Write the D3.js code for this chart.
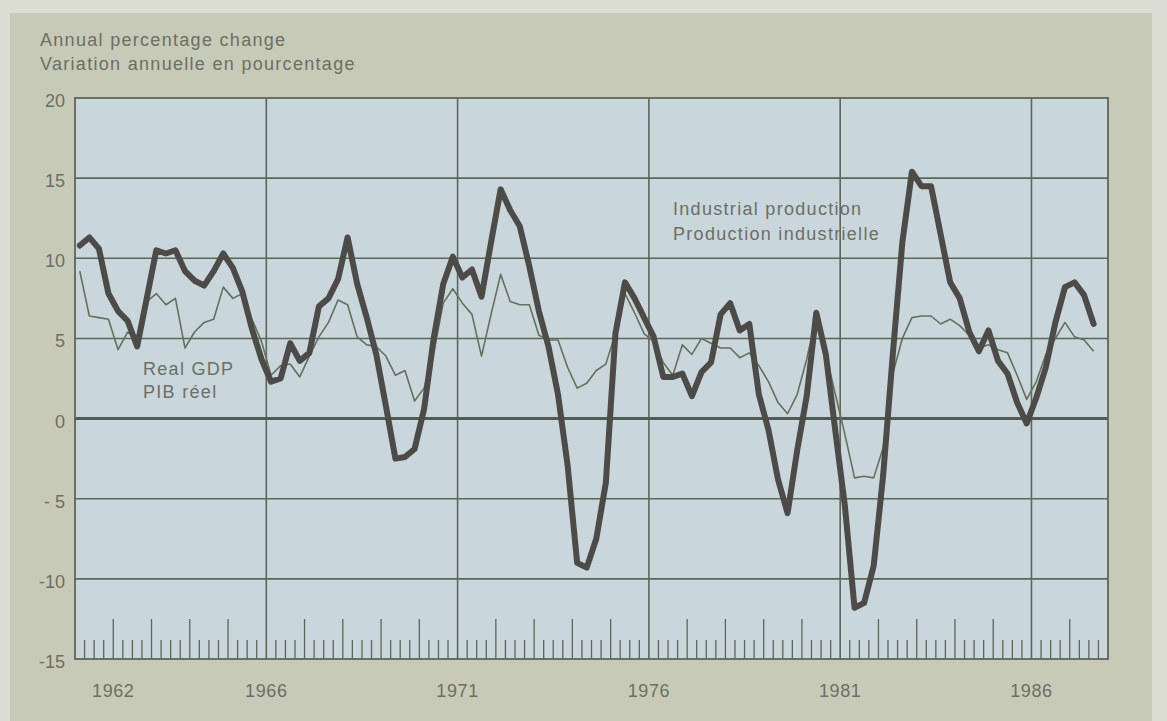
<!DOCTYPE html>
<html>
<head>
<meta charset="utf-8">
<script src="https://cdn.jsdelivr.net/npm/d3@7"></script>
<style>
  html, body { margin: 0; padding: 0; background: #dcddd2; }
  svg { display: block; }
  text { font-family: "Liberation Sans", Arial, sans-serif; fill: #6c6f64; }
</style>
</head>
<body>
<svg id="chart" width="1167" height="721"></svg>
<script>
// ---- Data (quarterly, 1961 Q1 – 1987 Q3) ----
const startYear = 1961;
const industrialProduction = [
  10.8, 11.3, 10.6, 7.8, 6.7, 6.1, 4.5, 7.5,
  10.5, 10.3, 10.5, 9.2, 8.6, 8.3, 9.2, 10.3,
  9.4, 7.9, 5.6, 3.7, 2.3, 2.5, 4.7, 3.6,
  4.1, 7.0, 7.5, 8.7, 11.3, 8.4, 6.3, 4.0,
  0.8, -2.5, -2.4, -1.9, 0.6, 5.0, 8.4, 10.1,
  8.8, 9.3, 7.6, 11.0, 14.3, 13.0, 12.0, 9.5,
  6.7, 4.5, 1.5, -2.9, -9.0, -9.3, -7.5, -4.0,
  5.3, 8.5, 7.5, 6.3, 5.1, 2.6, 2.6, 2.8,
  1.4, 2.9, 3.5, 6.5, 7.2, 5.5, 5.9, 1.5,
  -0.7, -3.8, -5.9, -2.0, 1.4, 6.6, 4.0, -0.8,
  -5.5, -11.8, -11.5, -9.2, -3.5, 4.0, 11.0, 15.4,
  14.5, 14.5, 11.5, 8.5, 7.5, 5.4, 4.2, 5.5,
  3.6, 2.8, 1.0, -0.3, 1.3, 3.2, 6.0, 8.2,
  8.5, 7.7, 5.9
];
const realGDP = [
  9.2, 6.4, 6.3, 6.2, 4.3, 5.4, 5.0, 7.3,
  7.8, 7.1, 7.5, 4.4, 5.4, 6.0, 6.2, 8.2,
  7.5, 7.8, 6.2, 4.8, 2.7, 3.3, 3.4, 2.6,
  3.9, 5.1, 6.0, 7.4, 7.1, 5.1, 4.6, 4.5,
  3.9, 2.7, 3.0, 1.1, 1.9, 4.1, 7.2, 8.1,
  7.2, 6.5, 3.9, 6.5, 9.0, 7.3, 7.1, 7.1,
  5.2, 4.9, 4.9, 3.2, 1.9, 2.2, 3.0, 3.4,
  5.3, 7.8, 6.6, 5.3, 4.8, 3.5, 2.7, 4.6,
  4.0, 5.0, 4.7, 4.4, 4.4, 3.8, 4.1, 3.3,
  2.3, 1.0, 0.3, 1.5, 3.7, 6.4, 4.0, 1.5,
  -1.0, -3.7, -3.6, -3.7, -1.8, 2.8, 5.0, 6.3,
  6.4, 6.4, 5.9, 6.2, 5.8, 5.2, 4.4, 4.6,
  4.3, 4.1, 2.7, 1.2, 2.3, 4.0, 5.0, 6.0,
  5.1, 4.9, 4.2
];
const yTicks = [20, 15, 10, 5, 0, -5, -10, -15];
const yTickLabels = ["20", "15", "10", "5", "0", "- 5", "-10", "-15"];
const xLabelYears = [1962, 1966, 1971, 1976, 1981, 1986];
const xGridYears = [1966, 1971, 1976, 1981, 1986];
const titleLines = ["Annual percentage change", "Variation annuelle en pourcentage"];
const gdpLabel = ["Real GDP", "PIB réel"];
const ipLabel = ["Industrial production", "Production industrielle"];

// ---- Layout ----
const svg = d3.select("#chart");
const W = 1167, H = 721;
const plot = { left: 75, right: 1108, top: 98, bottom: 659 };

// outer panel
svg.append("rect").attr("x", 10).attr("y", 13).attr("width", 1142).attr("height", H - 13)
  .attr("fill", "#c8cab8");

const x = d3.scaleLinear().domain([1961, 1988]).range([plot.left, plot.right]);
const y = d3.scaleLinear().domain([-15, 20]).range([plot.bottom, plot.top]);

// plot background
svg.append("rect")
  .attr("x", plot.left).attr("y", plot.top)
  .attr("width", plot.right - plot.left).attr("height", plot.bottom - plot.top)
  .attr("fill", "#c9d6dc");

const gridColor = "#5e6659";

// horizontal grid lines
svg.append("g").selectAll("line").data(yTicks.filter(v => v !== 0 && v !== -15 && v !== 20)).join("line")
  .attr("x1", plot.left).attr("x2", plot.right)
  .attr("y1", d => y(d)).attr("y2", d => y(d))
  .attr("stroke", gridColor).attr("stroke-width", 1.6);

// vertical grid lines
svg.append("g").selectAll("line").data(xGridYears).join("line")
  .attr("x1", d => x(d)).attr("x2", d => x(d))
  .attr("y1", plot.top).attr("y2", plot.bottom)
  .attr("stroke", gridColor).attr("stroke-width", 1.6);

// bottom ticks: years tall, quarters short
const tickG = svg.append("g");
for (let yr = 1961; yr < 1988; yr++) {
  for (let q = 0; q < 4; q++) {
    const t = yr + q / 4;
    if (t <= 1961) continue;
    const tall = q === 0;
    if (tall && xGridYears.includes(yr)) continue;
    tickG.append("line")
      .attr("x1", x(t)).attr("x2", x(t))
      .attr("y1", plot.bottom).attr("y2", plot.bottom - (tall ? 40 : 19))
      .attr("stroke", gridColor).attr("stroke-width", 1.3);
  }
}

// zero line
svg.append("line")
  .attr("x1", plot.left).attr("x2", plot.right)
  .attr("y1", y(0)).attr("y2", y(0))
  .attr("stroke", "#535a4f").attr("stroke-width", 3);

// border
svg.append("rect")
  .attr("x", plot.left).attr("y", plot.top)
  .attr("width", plot.right - plot.left).attr("height", plot.bottom - plot.top)
  .attr("fill", "none").attr("stroke", gridColor).attr("stroke-width", 1.8);

// lines
const tAt = i => startYear + (i + 0.5) / 4;
const line = d3.line().x((d, i) => x(tAt(i))).y(d => y(d));

svg.append("path").datum(realGDP)
  .attr("d", line).attr("fill", "none")
  .attr("stroke", "#65705c").attr("stroke-width", 1.6)
  .attr("stroke-linejoin", "round");

svg.append("path").datum(industrialProduction)
  .attr("d", line).attr("fill", "none")
  .attr("stroke", "#4c4b48").attr("stroke-width", 6)
  .attr("stroke-linejoin", "round").attr("stroke-linecap", "round");

// y tick labels
svg.append("g").selectAll("text").data(yTicks).join("text")
  .attr("x", 65).attr("y", d => y(d) + 9)
  .attr("text-anchor", "end")
  .style("font-size", "18px")
  .text((d, i) => yTickLabels[i]);

// x labels
svg.append("g").selectAll("text").data(xLabelYears).join("text")
  .attr("x", d => x(d)).attr("y", 697)
  .attr("text-anchor", "middle")
  .style("font-size", "18px").style("letter-spacing", "0.6px")
  .text(d => d);

// title
svg.append("g").selectAll("text").data(titleLines).join("text")
  .attr("x", 40).attr("y", (d, i) => 46 + i * 24)
  .style("font-size", "18px").style("letter-spacing", "1.3px")
  .text(d => d);

// series labels
svg.append("g").selectAll("text").data(gdpLabel).join("text")
  .attr("x", 143).attr("y", (d, i) => 375 + i * 23)
  .style("font-size", "18px").style("letter-spacing", "1.3px")
  .text(d => d);

svg.append("g").selectAll("text").data(ipLabel).join("text")
  .attr("x", 673).attr("y", (d, i) => 215 + i * 25)
  .style("font-size", "18px").style("letter-spacing", "1.3px")
  .text(d => d);
</script>
</body>
</html>
